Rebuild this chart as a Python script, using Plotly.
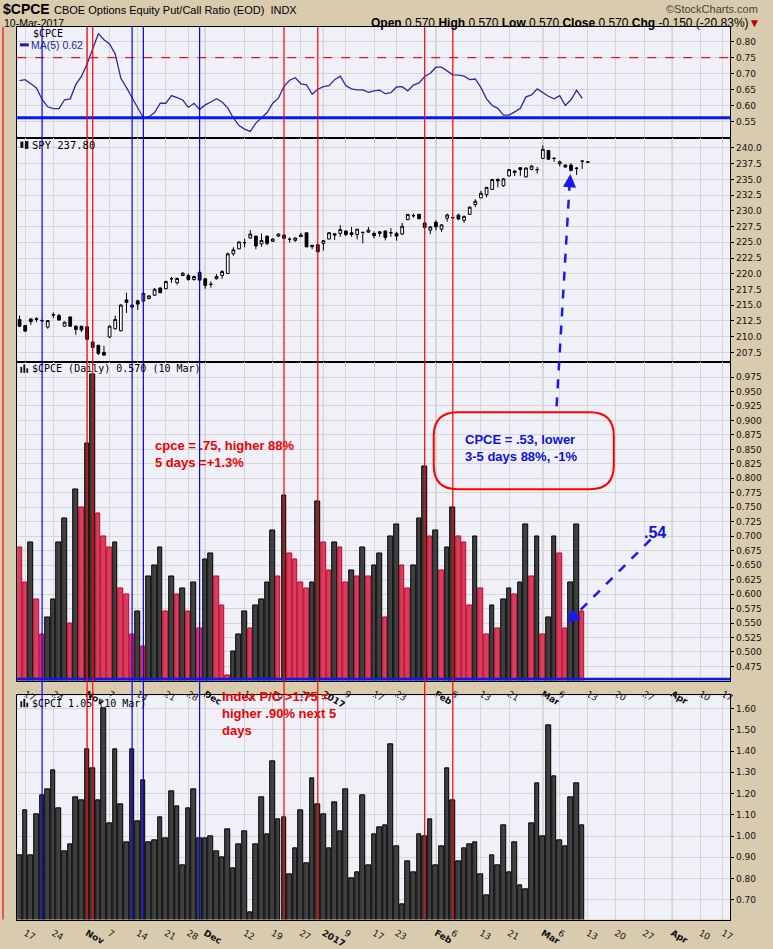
import pandas as pd
import plotly.graph_objects as go

W, H = 773, 949

# ---------------- trading calendar (category axis) ----------------
holidays = ["2016-11-24", "2016-12-26", "2017-01-02", "2017-01-16", "2017-02-20", "2017-04-14"]
trading_days = pd.bdate_range("2016-10-14", "2017-04-17", freq="C", holidays=holidays)
day_index = {d.strftime("%Y-%m-%d"): i for i, d in enumerate(trading_days)}

# ---------------- data ----------------
cpce = [0.68, 0.62, 0.69, 0.59, 0.53, 0.56, 0.59, 0.69, 0.73, 0.55,
        0.78, 0.75, 0.86, 0.98, 0.74, 0.70, 0.68, 0.69, 0.61, 0.60,
        0.53, 0.57, 0.51, 0.63, 0.65, 0.68, 0.57, 0.63, 0.60, 0.61,
        0.57, 0.62, 0.54, 0.66, 0.67, 0.63, 0.58, 0.46, 0.50, 0.53,
        0.57, 0.54, 0.58, 0.59, 0.62, 0.71, 0.63, 0.77, 0.67, 0.66,
        0.62, 0.61, 0.62, 0.76, 0.69, 0.64, 0.69, 0.68, 0.62, 0.64,
        0.63, 0.68, 0.63, 0.65, 0.67, 0.56, 0.70, 0.72, 0.65, 0.61,
        0.65, 0.73, 0.82, 0.70, 0.71, 0.64, 0.68, 0.75, 0.70, 0.69,
        0.58, 0.70, 0.61, 0.53, 0.58, 0.54, 0.59, 0.61, 0.60, 0.62,
        0.72, 0.63, 0.70, 0.53, 0.56, 0.70, 0.67, 0.54, 0.62, 0.72,
        0.57]

cpce_ma5 = [0.678, 0.681, 0.668, 0.655, 0.619, 0.596, 0.590, 0.590, 0.618, 0.621,
            0.666, 0.691, 0.730, 0.779, 0.825, 0.806, 0.793, 0.761, 0.685, 0.656,
            0.622, 0.593, 0.561, 0.565, 0.578, 0.607, 0.607, 0.631, 0.625, 0.617,
            0.594, 0.607, 0.588, 0.602, 0.611, 0.621, 0.611, 0.592, 0.561, 0.537,
            0.526, 0.519, 0.545, 0.563, 0.578, 0.607, 0.623, 0.660, 0.679, 0.687,
            0.668, 0.665, 0.635, 0.651, 0.659, 0.662, 0.681, 0.692, 0.662, 0.652,
            0.649, 0.649, 0.641, 0.646, 0.648, 0.637, 0.640, 0.658, 0.659, 0.646,
            0.664, 0.671, 0.691, 0.701, 0.720, 0.720, 0.709, 0.696, 0.695, 0.692,
            0.681, 0.683, 0.656, 0.621, 0.600, 0.591, 0.570, 0.570, 0.580, 0.591,
            0.627, 0.633, 0.652, 0.641, 0.629, 0.621, 0.631, 0.600, 0.618, 0.648,
            0.622]

cpci = [0.91, 1.12, 0.91, 1.10, 1.19, 1.22, 1.31, 1.13, 0.93, 0.96,
        1.18, 1.17, 1.41, 1.32, 1.17, 1.60, 1.06, 1.41, 1.15, 0.97,
        1.41, 1.07, 1.26, 0.97, 0.98, 1.09, 0.99, 1.21, 1.14, 0.86,
        1.13, 1.22, 0.99, 0.99, 1.00, 0.93, 0.90, 1.03, 0.85, 0.96,
        1.02, 0.64, 0.96, 1.18, 1.01, 1.35, 1.08, 1.09, 0.82, 0.94,
        1.12, 0.87, 1.27, 1.15, 1.10, 0.94, 1.16, 1.02, 1.22, 0.80,
        0.83, 1.19, 0.86, 1.01, 1.04, 1.05, 1.43, 0.95, 0.68, 0.88,
        0.83, 1.01, 1.00, 1.08, 0.86, 0.95, 1.32, 1.17, 0.88, 0.94,
        0.96, 0.97, 0.82, 0.72, 0.91, 0.86, 1.05, 0.83, 0.97, 0.77,
        0.75, 1.06, 1.25, 1.00, 1.52, 1.28, 0.98, 0.95, 1.18, 1.25,
        1.05]

spy_open = [212.72, 211.78, 212.82, 212.85, 212.58, 211.52, 213.50, 213.35, 211.67, 213.14,
            211.67, 211.67, 211.57, 209.16, 208.64, 207.49, 209.95, 211.26, 210.94, 215.85,
            214.70, 215.70, 215.65, 216.06, 216.59, 217.74, 217.63, 219.22, 218.57, 219.72,
            219.72, 219.09, 220.24, 219.20, 218.33, 219.20, 219.72, 220.04, 223.17, 223.96,
            224.97, 225.68, 225.99, 224.74, 225.99, 225.16, 225.99, 226.15, 225.49, 225.31,
            226.15, 226.52, 224.53, 224.63, 224.84, 225.52, 226.36, 226.41, 226.78, 226.52,
            226.25, 226.59, 226.62, 226.41, 226.67, 226.78, 226.54, 226.41, 226.31, 228.61,
            229.25, 229.44, 228.08, 226.93, 228.19, 227.09, 228.82, 228.95, 229.34, 228.50,
            229.44, 231.01, 232.06, 232.58, 233.41, 234.98, 233.99, 235.56, 236.08, 236.86,
            235.40, 236.60, 236.57, 238.33, 239.58, 238.35, 237.49, 237.28, 237.28, 236.78,
            237.93, 237.72]
spy_high = [213.35, 211.88, 212.93, 213.08, 212.70, 212.56, 213.87, 213.61, 212.40, 213.20,
            211.78, 211.67, 211.67, 209.27, 208.64, 208.54, 211.78, 213.35, 215.18, 217.00,
            215.12, 215.85, 217.11, 216.59, 217.74, 217.84, 218.89, 219.51, 219.41, 220.24,
            220.04, 219.72, 220.24, 219.30, 218.78, 219.93, 220.56, 223.38, 224.22, 225.16,
            225.58, 226.93, 225.99, 226.41, 225.99, 225.63, 226.41, 226.25, 225.79, 225.79,
            226.52, 226.52, 224.53, 224.74, 225.26, 226.62, 226.41, 227.72, 226.93, 227.46,
            227.09, 226.60, 227.46, 226.73, 226.73, 226.93, 227.25, 226.67, 228.08, 229.44,
            229.55, 229.55, 228.19, 227.56, 228.50, 227.88, 229.55, 229.03, 229.55, 229.23,
            230.70, 231.85, 233.21, 233.83, 235.09, 235.19, 235.19, 236.66, 236.45, 236.97,
            236.86, 237.23, 236.97, 240.42, 239.69, 238.54, 238.01, 237.39, 237.60, 236.97,
            238.01, 237.85]
spy_low = [211.52, 210.73, 211.88, 212.30, 212.40, 211.26, 212.93, 212.51, 211.57, 211.57,
           210.31, 210.73, 209.48, 208.12, 207.07, 206.97, 209.79, 211.15, 210.84, 213.76,
           214.60, 214.23, 215.54, 215.96, 216.48, 216.90, 217.53, 218.57, 218.26, 219.62,
           218.89, 218.89, 218.89, 217.63, 217.79, 219.09, 219.20, 220.04, 222.86, 223.90,
           224.22, 225.58, 223.90, 224.32, 224.53, 225.05, 225.89, 225.58, 224.95, 225.05,
           225.89, 224.27, 223.90, 223.38, 223.69, 225.47, 225.37, 225.89, 225.99, 225.89,
           225.47, 224.84, 226.52, 225.63, 225.89, 225.31, 225.89, 225.26, 226.20, 228.50,
           228.92, 228.61, 227.25, 226.31, 226.93, 226.67, 228.29, 228.82, 228.50, 228.08,
           229.34, 230.59, 232.06, 232.16, 233.31, 233.73, 233.83, 235.45, 235.51, 235.56,
           235.30, 236.45, 235.92, 238.33, 238.12, 237.80, 237.07, 236.86, 236.24, 235.71,
           236.66, 237.60]
spy_close = [211.67, 210.89, 212.40, 212.75, 212.52, 212.56, 213.45, 212.66, 212.30, 211.67,
             211.15, 211.05, 209.58, 208.28, 207.34, 207.07, 211.67, 212.72, 215.02, 215.44,
             215.02, 215.18, 216.90, 216.48, 217.53, 217.00, 218.78, 219.20, 219.25, 220.09,
             219.09, 219.56, 218.99, 218.15, 218.31, 219.56, 220.35, 223.17, 223.80, 225.05,
             224.95, 226.31, 224.43, 225.31, 224.84, 225.52, 226.31, 225.63, 225.47, 225.68,
             225.94, 224.27, 224.32, 223.49, 225.26, 226.52, 226.15, 227.04, 226.25, 226.25,
             227.09, 226.57, 226.93, 226.05, 226.41, 225.78, 226.52, 225.99, 227.56, 229.44,
             229.23, 228.76, 227.35, 227.46, 227.46, 227.77, 229.34, 228.90, 228.71, 229.13,
             230.59, 231.53, 232.79, 233.73, 234.98, 234.77, 235.09, 236.55, 236.34, 236.55,
             236.81, 237.13, 236.55, 239.79, 238.22, 238.33, 237.80, 236.97, 236.45, 236.76,
             237.89, 237.80]

# signal lines (dates) and horizontal levels
signal_high_dates = ["2016-11-01", "2016-11-02", "2016-12-21", "2016-12-30", "2017-01-30", "2017-02-06"]
signal_low_dates = ["2016-10-20", "2016-11-11", "2016-11-15", "2016-11-30"]
ma_upper_level = 0.75
ma_lower_level = 0.562
cpce_base_level = 0.453

# axis ticks
tick_dates = ["2016-10-17", "2016-10-24", "2016-11-01", "2016-11-07", "2016-11-14", "2016-11-21",
              "2016-11-28", "2016-12-01", "2016-12-12", "2016-12-19", "2016-12-27", "2017-01-03",
              "2017-01-09", "2017-01-17", "2017-01-23", "2017-02-01", "2017-02-06", "2017-02-13",
              "2017-02-21", "2017-03-01", "2017-03-06", "2017-03-13", "2017-03-20", "2017-03-27",
              "2017-04-03", "2017-04-10", "2017-04-17"]
tick_labels = ["17", "24", "<b>Nov</b>", "7", "14", "21", "28", "<b>Dec</b>", "12", "19", "27",
               "<b>2017</b>", "9", "17", "23", "<b>Feb</b>", "6", "13", "21", "<b>Mar</b>", "6",
               "13", "20", "27", "<b>Apr</b>", "10", "17"]
month_dates = ["2016-11-01", "2016-12-01", "2017-01-03", "2017-02-01", "2017-03-01", "2017-04-03"]

ma_ticks = [0.55, 0.60, 0.65, 0.70, 0.75, 0.80]
spy_ticks = [207.5, 210.0, 212.5, 215.0, 217.5, 220.0, 222.5, 225.0, 227.5, 230.0, 232.5,
             235.0, 237.5, 240.0]
cpce_ticks = [0.475, 0.500, 0.525, 0.550, 0.575, 0.600, 0.625, 0.650, 0.675, 0.700, 0.725,
              0.750, 0.775, 0.800, 0.825, 0.850, 0.875, 0.900, 0.925, 0.950, 0.975]
cpci_ticks = [0.70, 0.80, 0.90, 1.00, 1.10, 1.20, 1.30, 1.40, 1.50, 1.60]

# ---------------- helpers ----------------
def px(x):
    return x / W

def py(y):
    return 1 - y / H

x_cpce = list(range(len(cpce)))
x_spy = list(range(len(spy_open)))
tickvals = [day_index[d] for d in tick_dates]

# bar colours: red when the ratio fell versus the prior day
RED_FILL, RED_LINE = "#D6405F", "#C4002E"
DK_FILL, DK_LINE = "#404040", "#000000"
cpce_fill = [RED_FILL] + [RED_FILL if cpce[i] < cpce[i - 1] else DK_FILL for i in range(1, len(cpce))]
cpce_line = [RED_LINE if c == RED_FILL else DK_LINE for c in cpce_fill]

TAN = "#D9CBAE"
PLOTBG = "#EFF0F8"
GRID = "#D6D6D6"
TICKFONT = dict(family="DejaVu Sans", size=9, color="#111111")

fig = go.Figure()

fig.add_trace(go.Scatter(x=x_cpce, y=cpce_ma5, mode="lines",
                         line=dict(color="#2B2B9E", width=1.3), xaxis="x", yaxis="y"))
fig.add_trace(go.Candlestick(x=x_spy, open=spy_open, high=spy_high, low=spy_low, close=spy_close,
                             increasing=dict(line=dict(color="black", width=1), fillcolor="white"),
                             decreasing=dict(line=dict(color="black", width=1), fillcolor="black"),
                             whiskerwidth=0, xaxis="x2", yaxis="y2"))
fig.add_trace(go.Bar(x=x_cpce, y=cpce, width=0.82,
                     marker=dict(color=cpce_fill, line=dict(color=cpce_line, width=1)),
                     xaxis="x3", yaxis="y3"))
fig.add_trace(go.Bar(x=x_cpce, y=cpci, width=0.82,
                     marker=dict(color=DK_FILL, line=dict(color=DK_LINE, width=1)),
                     xaxis="x4", yaxis="y4"))

xdom = [px(17.3), px(734)]
xrange_ = [-0.42, 126.3]
panels = {
    "1": [py(140), py(27)],
    "2": [py(367.5), py(140)],
    "3": [py(690), py(367.5)],
    "4": [py(932.3), py(705)],
}
yranges = {"1": [0.498, 0.847], "2": [205.9, 241.57], "3": [0.4506, 1.0002], "4": [0.607, 1.662]}
yticks = {"1": (ma_ticks, ".2f"), "2": (spy_ticks, ".1f"), "3": (cpce_ticks, ".3f"), "4": (cpci_ticks, ".2f")}

layout = dict(width=W, height=H, margin=dict(l=0, r=0, t=0, b=0),
              paper_bgcolor=TAN, plot_bgcolor=PLOTBG, showlegend=False, hovermode=False,
              bargap=0)
for k in ["1", "2", "3", "4"]:
    xn = "xaxis" if k == "1" else "xaxis" + k
    yn = "yaxis" if k == "1" else "yaxis" + k
    ya = "y" if k == "1" else "y" + k
    xa = "x" if k == "1" else "x" + k
    layout[xn] = dict(domain=xdom, range=xrange_, anchor=ya, tickvals=tickvals, ticktext=tick_labels,
                      showticklabels=(k in ["3", "4"]), tickfont=TICKFONT, ticks="",
                      ticklabelstandoff=4,
                      showgrid=True, gridcolor=GRID, gridwidth=1, zeroline=False,
                      showline=True, linecolor="black", linewidth=1, mirror=True,
                      rangeslider=dict(visible=False), fixedrange=True)
    tv, fmt = yticks[k]
    layout[yn] = dict(domain=panels[k], range=yranges[k], anchor=xa, side="right",
                      tickvals=tv, tickformat=fmt, tickfont=TICKFONT, ticks="outside", ticklen=3,
                      tickcolor="black", showgrid=True, gridcolor=GRID, gridwidth=1, zeroline=False,
                      showline=True, linecolor="black", linewidth=1, mirror=True, fixedrange=True)
fig.update_layout(**layout)

shapes = []
# darker month separators
for d in month_dates:
    i = day_index[d]
    for k in ["", "2", "3", "4"]:
        shapes.append(dict(type="line", xref="x" + k, yref="y" + k + " domain", x0=i, x1=i, y0=0, y1=1,
                           line=dict(color="#BDB9AC", width=1.2), layer="below"))
# horizontal levels
shapes.append(dict(type="line", xref="x domain", yref="y", x0=0, x1=1, y0=ma_upper_level, y1=ma_upper_level,
                   line=dict(color="#FF1010", width=1.2, dash="dash")))
shapes.append(dict(type="line", xref="x domain", yref="y", x0=0, x1=1, y0=ma_lower_level, y1=ma_lower_level,
                   line=dict(color="#0A1AF0", width=3)))
shapes.append(dict(type="line", xref="x3 domain", yref="y3", x0=0, x1=1, y0=cpce_base_level, y1=cpce_base_level,
                   line=dict(color="#0A1AF0", width=3)))
# vertical signal lines across all panels
for d in signal_high_dates:
    i = day_index[d]
    shapes.append(dict(type="line", xref="x", yref="paper", x0=i, x1=i, y0=py(932.3), y1=py(27),
                       line=dict(color="#FF0000", width=1.2)))
for d in signal_low_dates:
    i = day_index[d]
    shapes.append(dict(type="line", xref="x", yref="paper", x0=i, x1=i, y0=py(932.3), y1=py(27),
                       line=dict(color="#0000FF", width=1.2)))
# red line at far left edge
shapes.append(dict(type="line", xref="paper", yref="paper", x0=px(3), x1=px(3), y0=py(932.3), y1=py(27),
                   line=dict(color="#FF0000", width=1.2)))

# rounded box
def P(x, y):
    return f"{px(x):.5f},{py(y):.5f}"

def rounded(x0, y0, x1, y1, r):
    return (f"M {P(x0 + r, y0)} L {P(x1 - r, y0)} Q {P(x1, y0)} {P(x1, y0 + r)} "
            f"L {P(x1, y1 - r)} Q {P(x1, y1)} {P(x1 - r, y1)} L {P(x0 + r, y1)} "
            f"Q {P(x0, y1)} {P(x0, y1 - r)} L {P(x0, y0 + r)} Q {P(x0, y0)} {P(x0 + r, y0)} Z")

shapes.append(dict(type="path", xref="paper", yref="paper", path=rounded(436, 418, 617, 496, 24),
                   line=dict(color="#FF0000", width=2)))
# dashed arrows
shapes.append(dict(type="line", xref="paper", yref="paper", x0=px(559.5), y0=py(412), x1=px(572.6), y1=py(186),
                   line=dict(color="#1A1AF0", width=2.5, dash="dash")))
shapes.append(dict(type="line", xref="paper", yref="paper", x0=px(654), y0=py(547), x1=px(577), y1=py(625),
                   line=dict(color="#1A1AF0", width=2.5, dash="dash")))

# legend/marker icons
def rect(x0, y0, x1, y1, color):
    return dict(type="rect", xref="paper", yref="paper", x0=px(x0), x1=px(x1), y0=py(y1), y1=py(y0),
                fillcolor=color, line=dict(width=0))

shapes.append(dict(type="line", xref="paper", yref="paper", x0=px(20), x1=px(29), y0=py(45.5), y1=py(45.5),
                   line=dict(color="#1F1F99", width=3)))
for (x0, y0, x1, y1) in [(20.5, 372, 22.3, 378), (23.5, 369.5, 25.3, 378), (26.5, 373.5, 28.3, 378)]:
    shapes.append(rect(x0, y0, x1, y1, "#111111"))
for (x0, y0, x1, y1) in [(20.5, 711, 22.3, 717), (23.5, 708.5, 25.3, 717), (26.5, 712.5, 28.3, 717)]:
    shapes.append(rect(x0, y0, x1, y1, "#111111"))
shapes.append(rect(20.5, 143.5, 23.5, 150, "#111111"))
shapes.append(rect(25, 143, 28.5, 151, "#111111"))
fig.update_layout(shapes=shapes)

ann = []
def text(x, y, t, size=11, color="black", family="Liberation Sans", xanchor="left", yanchor="middle", align="left"):
    ann.append(dict(x=px(x), y=py(y), xref="paper", yref="paper", text=t, showarrow=False,
                    xanchor=xanchor, yanchor=yanchor, align=align, borderpad=0,
                    font=dict(size=size, color=color, family=family)))

text(2, 9, "<b>$CPCE</b>", size=14)
text(53, 10, "CBOE Options Equity Put/Call Ratio (EOD)  INDX", size=11)
text(763, 9, "©StockCharts.com", size=11, color="#444444", xanchor="right")
text(3, 23, "10-Mar-2017", size=10.5)
text(765, 23, "<b>Open</b> 0.570 <b>High</b> 0.570 <b>Low</b> 0.570 <b>Close</b> 0.570 "
              "<b>Chg</b> -0.150 (-20.83%)<span style='color:#C00000'>▼</span>", size=12, xanchor="right")

text(32, 33.5, "$CPCE", size=10, family="DejaVu Sans Mono")
text(30, 45.5, "MA(5) 0.62", size=10.5, color="#1F1F99")
text(31, 147, "SPY 237.80", size=10.5, family="DejaVu Sans Mono")
text(31, 374, "$CPCE (Daily) 0.570 (10 Mar)", size=10, family="DejaVu Sans Mono")
text(31, 713, "$CPCI 1.05 (10 Mar)", size=10, family="DejaVu Sans Mono")

text(155, 443, "<b>cpce = .75, higher 88%<br>5 days =+1.3%</b>", size=13, color="#F00000", yanchor="top")
text(466, 437, "<b>CPCE = .53, lower<br>3-5 days 88%, -1%</b>", size=13, color="#1010E0", yanchor="top")
text(646, 540, "<b>.54</b>", size=16, color="#1010E0")
text(222, 698, "<b>Index P/C >1.75 =<br>higher .90% next 5<br>days</b>", size=13, color="#F00000", yanchor="top")

# arrowheads
ann.append(dict(x=px(570), y=py(632), xref="paper", yref="paper", text="", showarrow=True,
                arrowhead=2, arrowsize=1.2, arrowwidth=2.2, arrowcolor="#1A1AF0", ax=10, ay=-10))
ann.append(dict(x=px(573.3), y=py(176.5), xref="paper", yref="paper", text="", showarrow=True,
                arrowhead=2, arrowsize=1.2, arrowwidth=2.2, arrowcolor="#1A1AF0", ax=-0.8, ay=13))
fig.update_layout(annotations=ann)

fig.write_html("out.html", config={"displayModeBar": False})

# remove the default page margin so the figure sits at the window's top-left corner
with open("out.html", "r", encoding="utf-8") as f:
    html = f.read()
html = html.replace("<head>", "<head><style>html,body{margin:0;padding:0;overflow:hidden;}</style>", 1)
with open("out.html", "w", encoding="utf-8") as f:
    f.write(html)
